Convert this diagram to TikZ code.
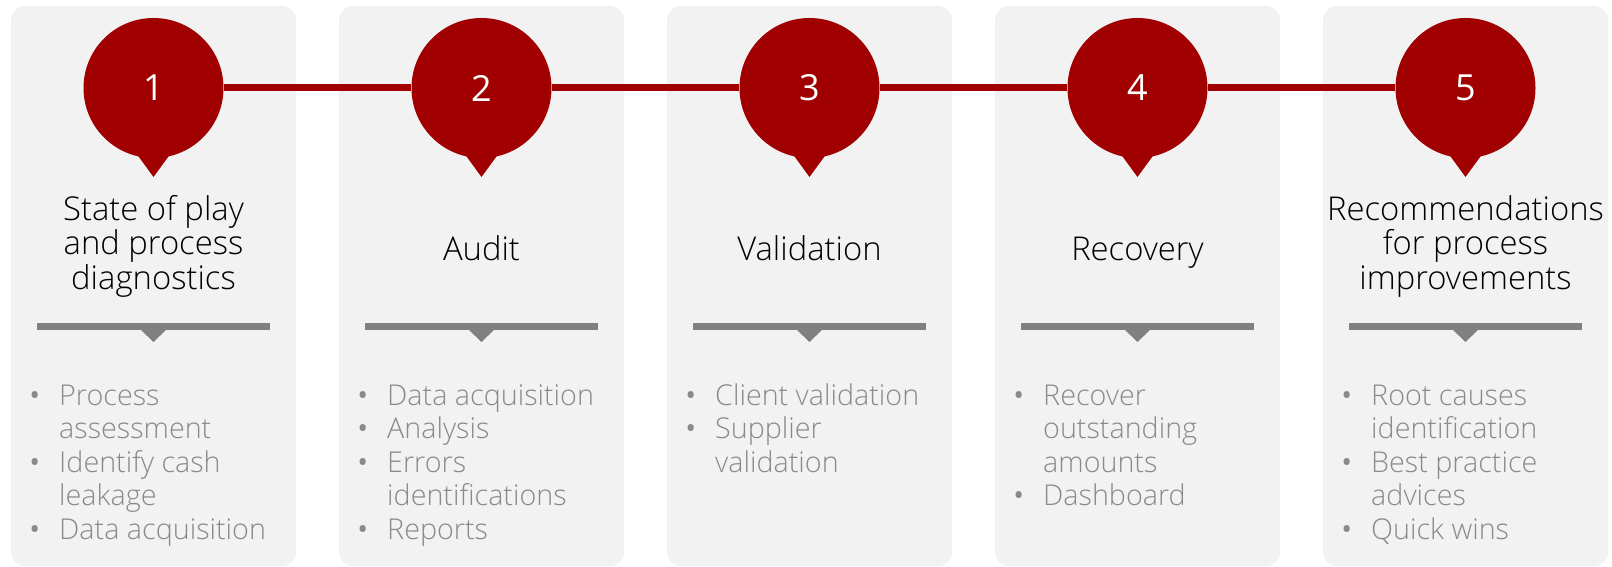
\documentclass[tikz,border=0pt]{standalone}
\usepackage{fontspec}
\setmainfont{Open Sans}[UprightFont={* Light}]
\newfontfamily\numfont{Open Sans}
\usetikzlibrary{calc}
\definecolor{panelgray}{HTML}{F2F2F2}
\definecolor{stepred}{HTML}{A00000}
\definecolor{bargray}{HTML}{808080}
\definecolor{itemgray}{HTML}{8A8A8A}
\definecolor{titleblack}{HTML}{000000}
\newcommand\bitem{\leavevmode\llap{{\numfont\textbullet}\hspace{19pt}}}
\tikzset{
  panel/.style={fill=panelgray, rounded corners=14pt, minimum width=285pt, minimum height=560pt, inner sep=0pt, draw=none, rectangle},
  stepcircle/.style={circle, fill=stepred, minimum size=140pt, inner sep=0pt, text=white, font=\numfont\fontsize{36}{36}\selectfont},
  steptitle/.style={align=center, text=titleblack, font=\fontsize{32.8}{34.5}\selectfont, anchor=base, inner sep=0pt},
  itemlist/.style={align=left, text=itemgray, font=\fontsize{28.7}{33.5}\selectfont, anchor=base west, inner sep=0pt},
  link/.style={draw=stepred, line width=7pt},
}
\begin{document}
\begin{tikzpicture}[x=1pt,y=1pt]
\useasboundingbox (0,0) rectangle (1612,-567);
\foreach \i/\ty/\ly/\ttl/\itm [evaluate=\i as \cx using 153.5+328*(\i-1)] in {
  1/-289/-539/{State of play\\and process\\diagnostics}/{\bitem Process\\assessment\\\bitem Identify cash\\leakage\\\bitem Data acquisition},
  2/-260/-539/{Audit}/{\bitem Data acquisition\\\bitem Analysis\\\bitem Errors\\identifications\\\bitem Reports},
  3/-260/-472/{Validation}/{\bitem Client validation\\\bitem Supplier\\validation},
  4/-260/-505.5/{Recovery}/{\bitem Recover\\outstanding\\amounts\\\bitem Dashboard},
  5/-289/-539/{Recommendations\\for process\\improvements}/{\bitem Root causes\\identification\\\bitem Best practice\\advices\\\bitem Quick wins}}{
  \node[panel] (panel\i) at (\cx,-286) {};
  \node[stepcircle] (c\i) at (\cx,-88) {\i};
  \fill[stepred] ($(c\i)+(-27,-52)$) -- ($(c\i)+(0,-89)$) -- ($(c\i)+(27,-52)$) -- cycle;
  \node[steptitle] (t\i) at (\cx,\ty) {\ttl};
  \fill[bargray] (\cx-117,-323) rectangle (\cx+116,-330);
  \fill[bargray] (\cx-13,-329.5) -- (\cx,-342) -- (\cx+13,-329.5) -- cycle;
  \node[itemlist] (l\i) at (\cx-94.5,\ly) {\itm};
}
\foreach \a/\b in {1/2,2/3,3/4,4/5}{
  \draw[link] (c\a) -- (c\b);
}
\end{tikzpicture}
\end{document}
